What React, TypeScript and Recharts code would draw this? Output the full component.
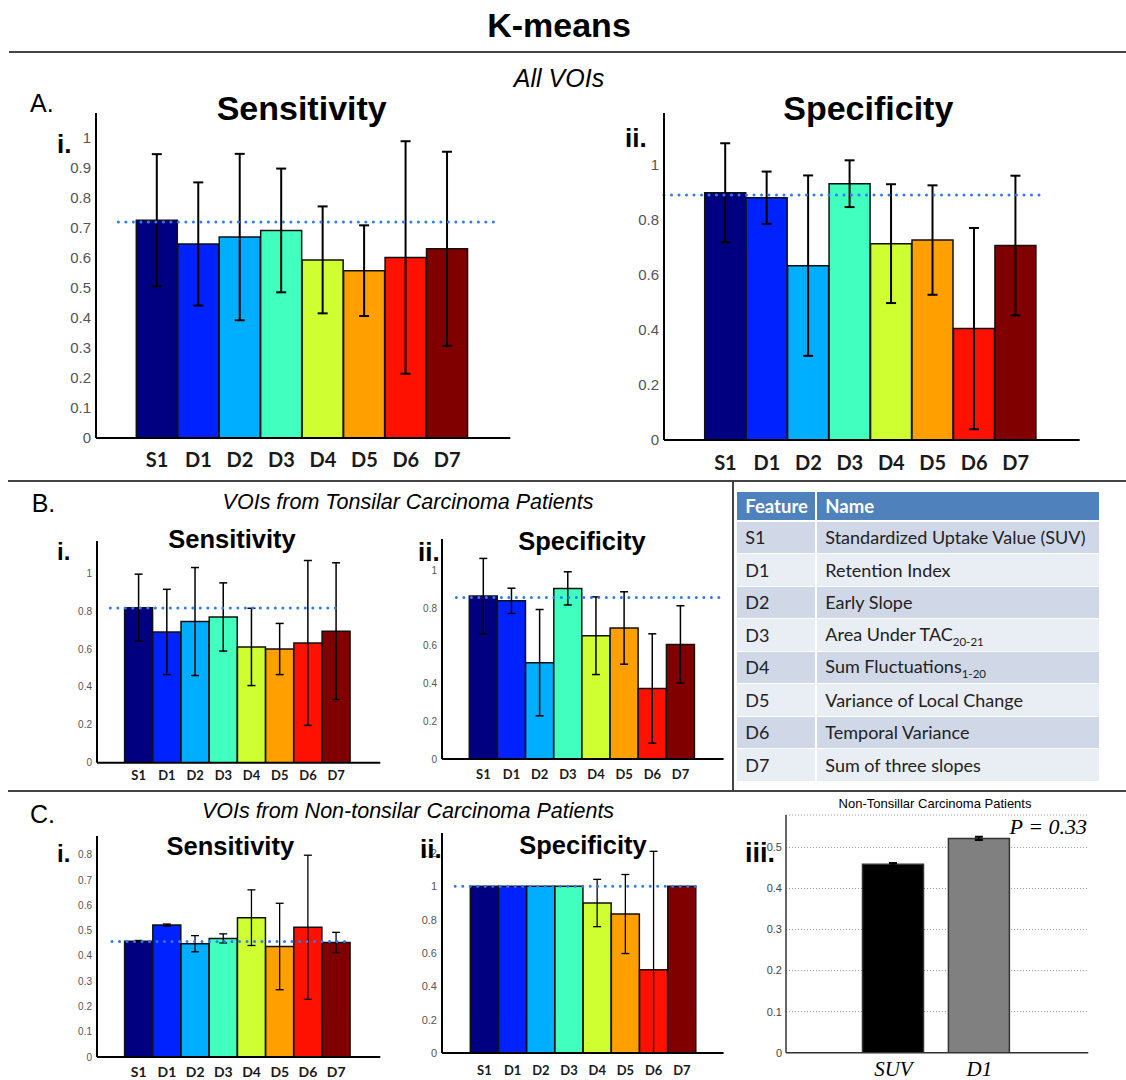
import React from "react"
import {
  Bar,
  BarChart,
  CartesianGrid,
  Cell,
  ErrorBar,
  ReferenceLine,
  XAxis,
  YAxis,
} from "recharts"

/* ---------- data ---------- */

const features = ["S1", "D1", "D2", "D3", "D4", "D5", "D6", "D7"]
const jetColors = ["#000080", "#0022FF", "#00AEFF", "#40FFBF", "#CFFF30", "#FF9F00", "#FF1100", "#800000"]

// A. All VOIs
const allSens = [0.725, 0.646, 0.669, 0.691, 0.593, 0.557, 0.601, 0.63]
const allSensErr = [0.22, 0.205, 0.277, 0.206, 0.178, 0.151, 0.387, 0.323]
const allSensRef = 0.719
const allSpec = [0.899, 0.881, 0.634, 0.932, 0.714, 0.727, 0.405, 0.707]
const allSpecErr = [0.18, 0.095, 0.328, 0.085, 0.216, 0.199, 0.366, 0.254]
const allSpecRef = 0.891

// B. Tonsilar carcinoma patients
const tonSens = [0.818, 0.69, 0.745, 0.769, 0.611, 0.6, 0.632, 0.694]
const tonSensErr = [0.177, 0.225, 0.285, 0.18, 0.204, 0.135, 0.435, 0.361]
const tonSensRef = 0.816
const tonSpec = [0.864, 0.839, 0.511, 0.905, 0.654, 0.695, 0.374, 0.608]
const tonSpecErr = [0.2, 0.067, 0.282, 0.088, 0.206, 0.192, 0.29, 0.205]
const tonSpecRef = 0.857

// C. Non-tonsilar carcinoma patients
const nonSens = [0.458, 0.522, 0.448, 0.469, 0.551, 0.437, 0.513, 0.453]
const nonSensErr = [0.003, 0.004, 0.032, 0.018, 0.11, 0.171, 0.285, 0.04]
const nonSensRef = 0.457
const nonSpec = [1, 1, 1, 1, 0.9, 0.834, 0.5, 1]
const nonSpecErr: (number | number[])[] = [0, 0, 0, 0, 0.142, 0.237, [0.5, 0.71], 0]
const nonSpecRef = 1

// C.iii SUV vs D1
const pairLabels = ["SUV", "D1"]
const pairValues = [0.459, 0.522]
const pairErrs = [0.003, 0.004]
const pairColors = ["#000000", "#808080"]

const ticksTenth = [0, 0.1, 0.2, 0.3, 0.4, 0.5, 0.6, 0.7, 0.8, 0.9, 1]
const ticksFifth = [0, 0.2, 0.4, 0.6, 0.8, 1]
const ticksNonSens = [0, 0.1, 0.2, 0.3, 0.4, 0.5, 0.6, 0.7, 0.8]
const ticksNonSpec = [0, 0.2, 0.4, 0.6, 0.8, 1, 1.2]
const ticksPair = [0, 0.1, 0.2, 0.3, 0.4, 0.5]

const featureNames = [
  "Standardized Uptake Value (SUV)",
  "Retention Index",
  "Early Slope",
  "Area Under TAC",
  "Sum Fluctuations",
  "Variance of Local Change",
  "Temporal Variance",
  "Sum of three slopes",
]
const featureSubs = ["", "", "", "20-21", "1-20", "", "", ""]

const ARIAL = "'Liberation Sans', Arial, sans-serif"
const CALIBRI = "Lato, 'Liberation Sans', sans-serif"
const TIMES = "'Liberation Serif', 'Times New Roman', serif"

/* ---------- helpers ---------- */

function Txt({
  x,
  y,
  size,
  weight = 400,
  italic = false,
  family = ARIAL,
  color = "#000",
  anchor = "middle",
  children,
}: {
  x: number
  y: number
  size: number
  weight?: number
  italic?: boolean
  family?: string
  color?: string
  anchor?: "start" | "middle" | "end"
  children: React.ReactNode
}) {
  const tx = anchor === "middle" ? "-50%" : anchor === "end" ? "-100%" : "0"
  return (
    <div
      style={{
        position: "absolute",
        left: x,
        top: y,
        transform: `translate(${tx},-50%)`,
        fontSize: size,
        fontWeight: weight,
        fontStyle: italic ? "italic" : "normal",
        fontFamily: family,
        color,
        lineHeight: 1,
        whiteSpace: "nowrap",
      }}
    >
      {children}
    </div>
  )
}

function HLine({ x1, x2, y }: { x1: number; x2: number; y: number }) {
  return <div style={{ position: "absolute", left: x1, top: y - 1, width: x2 - x1, height: 2, background: "#444" }} />
}

type PanelProps = {
  x: number
  top: number
  bottom: number
  right: number
  yMax: number
  ticks: number[]
  values: number[]
  errs: (number | number[])[]
  refValue: number
  refSpan: [number, number]
  padL: number
  padR: number
  tickSize: number
  labelSize: number
  labelGap: number
  capW: number
  lineW: number
}

function FeaturePanel(p: PanelProps) {
  const data = features.map((f, i) => ({ f, v: p.values[i], e: p.errs[i] }))
  const YW = 50
  const MT = 10
  const MR = 10
  const XH = 40
  const w = p.right - p.x + YW + MR
  const h = p.bottom - p.top + MT + XH
  // dotted mean line, inset within the plot width
  const dotted = (props: any) => {
    const { x1, x2, y1 } = props
    const a = x1 + (x2 - x1) * p.refSpan[0]
    const b = x1 + (x2 - x1) * p.refSpan[1]
    return (
      <line x1={a} x2={b} y1={y1} y2={y1} stroke="#2F7BF5" strokeWidth={3} strokeDasharray="0 7.5" strokeLinecap="round" />
    )
  }
  return (
    <div style={{ position: "absolute", left: p.x - YW, top: p.top - MT }}>
      <BarChart width={w} height={h} data={data} margin={{ top: MT, right: MR, left: 0, bottom: 0 }} barCategoryGap={0} barGap={0}>
        <XAxis
          dataKey="f"
          padding={{ left: p.padL, right: p.padR }}
          tickLine={false}
          tickSize={0}
          tickMargin={p.labelGap - 0.36 * p.labelSize}
          interval={0}
          height={XH}
          axisLine={{ stroke: "#000", strokeWidth: 2 }}
          tick={{ fill: "#1a1a1a", fontSize: p.labelSize, fontWeight: 700, fontFamily: CALIBRI }}
        />
        <YAxis
          type="number"
          domain={[0, p.yMax]}
          ticks={p.ticks}
          allowDataOverflow
          width={YW}
          tickLine={false}
          tickSize={0}
          tickMargin={5}
          axisLine={{ stroke: "#000", strokeWidth: 2 }}
          tick={{ fill: "#555", fontSize: p.tickSize, fontFamily: ARIAL }}
        />
        <Bar dataKey="v" isAnimationActive={false} stroke="#111" strokeWidth={1.5}>
          {data.map((d, i) => (
            <Cell key={d.f} fill={jetColors[i]} />
          ))}
          <ErrorBar dataKey="e" width={p.capW} strokeWidth={p.lineW} stroke="#000" isAnimationActive={false} />
        </Bar>
        <ReferenceLine y={p.refValue} shape={dotted} />
      </BarChart>
    </div>
  )
}

function PairPanel() {
  const data = pairLabels.map((f, i) => ({ f, v: pairValues[i], e: pairErrs[i] }))
  const x = 786
  const top = 815
  const bottom = 1052.7
  const right = 1088.3
  const YW = 50
  const MT = 10
  const MR = 10
  const XH = 27
  return (
    <div style={{ position: "absolute", left: x - YW, top: top - MT }}>
      <BarChart
        width={right - x + YW + MR}
        height={bottom - top + MT + XH}
        data={data}
        margin={{ top: MT, right: MR, left: 0, bottom: 0 }}
      >
        <CartesianGrid vertical={false} stroke="#999" strokeDasharray="1 2" />
        <XAxis
          dataKey="f"
          padding={{ left: 64.5, right: 66 }}
          tickLine={false}
          tickSize={0}
          tickMargin={8}
          height={XH}
          axisLine={{ stroke: "#333", strokeWidth: 1.5 }}
          tick={{ fill: "#000", fontSize: 21, fontStyle: "italic", fontFamily: TIMES }}
        />
        <YAxis
          type="number"
          domain={[0, 0.579]}
          ticks={ticksPair}
          allowDataOverflow
          width={YW}
          tickLine={false}
          tickSize={0}
          tickMargin={4}
          axisLine={{ stroke: "#333", strokeWidth: 1.5 }}
          tick={{ fill: "#444", fontSize: 11, fontFamily: ARIAL }}
        />
        <Bar dataKey="v" barSize={61} isAnimationActive={false} stroke="#333" strokeWidth={1.5}>
          {data.map((d, i) => (
            <Cell key={d.f} fill={pairColors[i]} />
          ))}
          <ErrorBar dataKey="e" width={4} strokeWidth={2} stroke="#000" isAnimationActive={false} />
        </Bar>
      </BarChart>
    </div>
  )
}

function FeatureTable() {
  const cell1 = {
    width: 80,
    paddingLeft: 8,
    boxSizing: "border-box" as const,
    borderRight: "2px solid #fff",
    height: "100%",
    display: "flex",
    alignItems: "center",
  }
  return (
    <div style={{ position: "absolute", left: 737.3, top: 491.7, width: 362, fontFamily: CALIBRI, fontSize: 18 }}>
      <div style={{ display: "flex", height: 30, boxSizing: "border-box", background: "#4F81BD", color: "#fff", fontWeight: 700, fontSize: 18.5, alignItems: "center", borderBottom: "2px solid #fff" }}>
        <div style={cell1}>Feature</div>
        <div style={{ paddingLeft: 8 }}>Name</div>
      </div>
      {features.map((f, i) => (
        <div
          key={f}
          style={{
            display: "flex",
            height: 32.5,
            boxSizing: "border-box",
            background: i % 2 === 0 ? "#D0D8E8" : "#E9EDF4",
            borderBottom: "1.5px solid #fff",
            color: "#222",
            alignItems: "center",
          }}
        >
          <div style={cell1}>{f}</div>
          <div style={{ paddingLeft: 8 }}>
            {featureNames[i]}
            {featureSubs[i] && <sub style={{ fontSize: 11.5 }}>{featureSubs[i]}</sub>}
          </div>
        </div>
      ))}
    </div>
  )
}

export default function App() {
  return (
    <div style={{ position: "absolute", left: 0, top: 0, width: 1126, height: 1080, background: "#fff", fontFamily: ARIAL, overflow: "hidden" }}>
      <FeaturePanel
        x={95.7} top={112.7} bottom={437.7} right={510}
        yMax={1.082} ticks={ticksTenth}
        values={allSens} errs={allSensErr} refValue={allSensRef} refSpan={[0.054, 0.969]}
        padL={40.3} padR={42.3} tickSize={15} labelSize={20} labelGap={22.3} capW={5} lineW={2}
      />
      <FeaturePanel
        x={664.3} top={113.3} bottom={440.3} right={1080}
        yMax={1.189} ticks={ticksFifth}
        values={allSpec} errs={allSpecErr} refValue={allSpecRef} refSpan={[0, 0.913]}
        padL={40.7} padR={43.3} tickSize={15} labelSize={20} labelGap={23} capW={5} lineW={2}
      />
      <FeaturePanel
        x={96.7} top={541} bottom={762.7} right={380}
        yMax={1.17} ticks={ticksFifth}
        values={tonSens} errs={tonSensErr} refValue={tonSensRef} refSpan={[0.047, 0.858]}
        padL={27.6} padR={30} tickSize={10} labelSize={13} labelGap={12.5} capW={4} lineW={1.5}
      />
      <FeaturePanel
        x={441.7} top={539.3} bottom={759.3} right={723.3}
        yMax={1.167} ticks={ticksFifth}
        values={tonSpec} errs={tonSpecErr} refValue={tonSpecRef} refSpan={[0.051, 0.991]}
        padL={27.3} padR={29} tickSize={10} labelSize={13} labelGap={15.7} capW={4} lineW={1.5}
      />
      <FeaturePanel
        x={96.7} top={835.7} bottom={1056.7} right={380}
        yMax={0.874} ticks={ticksNonSens}
        values={nonSens} errs={nonSensErr} refValue={nonSensRef} refSpan={[0.053, 0.9]}
        padL={27.6} padR={30} tickSize={10} labelSize={14} labelGap={15.5} capW={4} lineW={1.3}
      />
      <FeaturePanel
        x={441.7} top={833.3} bottom={1053.3} right={723.3}
        yMax={1.32} ticks={ticksNonSpec}
        values={nonSpec} errs={nonSpecErr} refValue={nonSpecRef} refSpan={[0.047, 0.906]}
        padL={28.3} padR={27.6} tickSize={11} labelSize={13} labelGap={17.5} capW={4} lineW={1.3}
      />
      <PairPanel />
      <FeatureTable />

      {/* separators */}
      <HLine x1={9} x2={1126} y={51.7} />
      <HLine x1={8} x2={1126} y={481} />
      <HLine x1={8} x2={1126} y={790.5} />
      <div style={{ position: "absolute", left: 732.3, top: 481, width: 2, height: 309.5, background: "#444" }} />

      {/* titles */}
      <Txt x={559} y={25} size={34} weight={700}>K-means</Txt>
      <Txt x={559} y={78} size={25} italic>All VOIs</Txt>
      <Txt x={408} y={503} size={21.5} italic>VOIs from Tonsilar Carcinoma Patients</Txt>
      <Txt x={408} y={811.7} size={21.5} italic>VOIs from Non-tonsilar Carcinoma Patients</Txt>

      <Txt x={301.7} y={108.3} size={34} weight={700}>Sensitivity</Txt>
      <Txt x={868.3} y={108} size={34} weight={700}>Specificity</Txt>
      <Txt x={232} y={540} size={25.5} weight={700}>Sensitivity</Txt>
      <Txt x={582} y={541.7} size={25.5} weight={700}>Specificity</Txt>
      <Txt x={230.3} y={847.3} size={25.5} weight={700}>Sensitivity</Txt>
      <Txt x={583} y={846} size={25.5} weight={700}>Specificity</Txt>
      <Txt x={935} y={803.3} size={13}>Non-Tonsillar Carcinoma Patients</Txt>
      <Txt x={1087} y={826.7} size={22} italic family={TIMES} anchor="end">P = 0.33</Txt>

      {/* panel letters */}
      <Txt x={30} y={102.5} size={25} anchor="start">A.</Txt>
      <Txt x={31.7} y={502.5} size={25} anchor="start">B.</Txt>
      <Txt x={30} y={813.5} size={25} anchor="start">C.</Txt>
      <Txt x={57} y={143.5} size={26} weight={700} anchor="start">i.</Txt>
      <Txt x={625} y={137.5} size={26} weight={700} anchor="start">ii.</Txt>
      <Txt x={57} y={551.5} size={24} weight={700} anchor="start">i.</Txt>
      <Txt x={418} y={551.5} size={26} weight={700} anchor="start">ii.</Txt>
      <Txt x={57} y={853.5} size={24} weight={700} anchor="start">i.</Txt>
      <Txt x={420} y={848.5} size={26} weight={700} anchor="start">ii.</Txt>
      <Txt x={745} y={853} size={27} weight={700} anchor="start">iii.</Txt>
    </div>
  )
}
